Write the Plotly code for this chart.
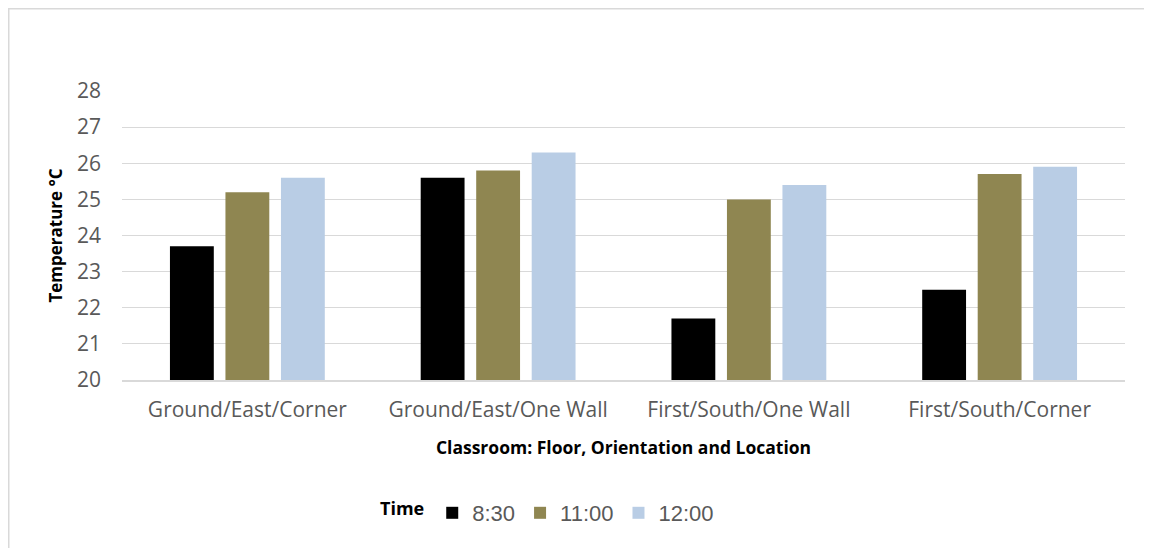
import plotly.graph_objects as go

categories = ["Ground/East/Corner", "Ground/East/One Wall", "First/South/One Wall", "First/South/Corner"]
t0830 = [23.7, 25.6, 21.7, 22.5]
t1100 = [25.2, 25.8, 25.0, 25.7]
t1200 = [25.6, 26.3, 25.4, 25.9]
series_names = ["8:30", "11:00", "12:00"]
colors = ["#000000", "#8F8651", "#B9CDE5"]
y_ticks = [20, 21, 22, 23, 24, 25, 26, 27, 28]

# page body adds an 8px offset; figure coords = screen - 8
W, H = 1152, 548
ml, mr, mt, mb = 114, 35, 83, 176
pw = W - ml - mr
ph = H - mt - mb

fig = go.Figure()
for name, vals, c in zip(series_names, [t0830, t1100, t1200], colors):
    fig.add_trace(go.Bar(
        x=categories, y=vals, name=name,
        marker=dict(color=c, line=dict(width=0)),
    ))

fig.update_layout(
    width=W, height=H,
    margin=dict(l=ml, r=mr, t=mt, b=mb),
    paper_bgcolor="white", plot_bgcolor="white",
    barmode="group", bargap=0.336, bargroupgap=0.21,
    showlegend=True,
    legend=dict(
        orientation="h", x=(370 - ml) / pw, xanchor="left",
        y=-(505 - (H - mb)) / ph, yanchor="middle",
        title=dict(text="<b>Time</b>", font=dict(family="Open Sans", size=18, color="#000000")),
        font=dict(family="Liberation Sans, Arial", size=22, color="#595959"),
        itemwidth=30, traceorder="normal",
    ),
    xaxis=dict(
        showgrid=False, showline=True, linecolor="#D9D9D9", linewidth=1.5,
        tickfont=dict(family="Open Sans", size=21, color="#595959"),
        ticks="", ticklabelstandoff=10,
        title=dict(text="<b>Classroom: Floor, Orientation and Location</b>",
                   font=dict(family="Open Sans", size=17.5, color="#000000"), standoff=20),
    ),
    yaxis=dict(
        range=[20, 28], tickvals=y_ticks,
        showgrid=True, gridcolor="#D9D9D9", gridwidth=1.2, zeroline=False,
        tickfont=dict(family="Open Sans", size=21, color="#595959"),
        ticks="", ticklabelstandoff=20,
        title=dict(text="<b>Temperature °C</b>",
                   font=dict(family="Open Sans", size=17, color="#000000"), standoff=10),
    ),
)

fig.add_shape(type="rect", xref="paper", yref="paper",
              x0=(0.75 - ml) / pw, x1=(1170 - ml) / pw,
              y0=-(560 - (H - mb)) / ph, y1=1 + (mt - 0.75) / ph,
              line=dict(color="#D9D9D9", width=1.5), fillcolor="rgba(0,0,0,0)", layer="below")

fig.write_html("out.html")
